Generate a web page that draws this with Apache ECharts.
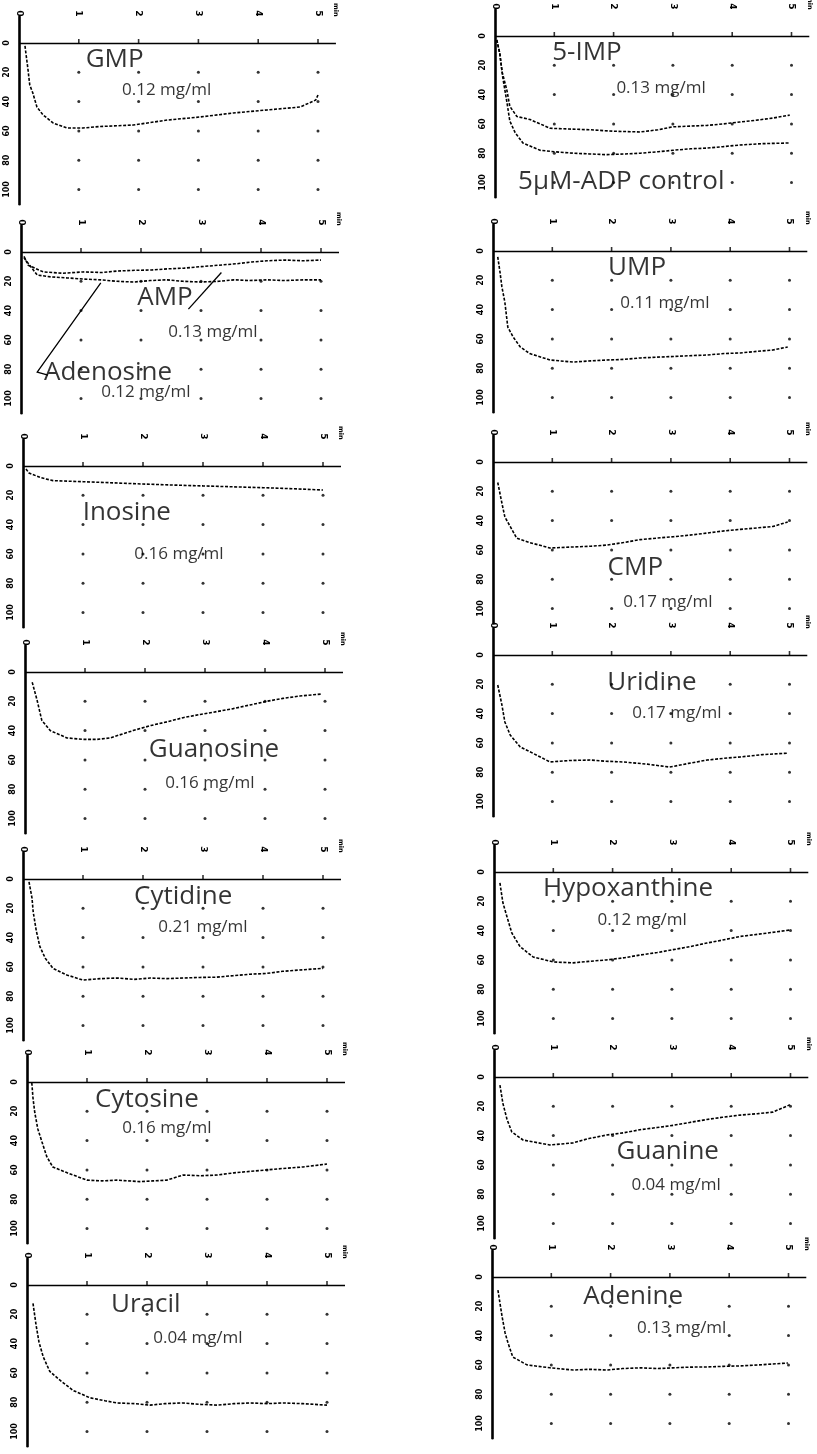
<!DOCTYPE html>
<html><head><meta charset="utf-8">
<script src="https://cdn.jsdelivr.net/npm/echarts@6/dist/echarts.min.js"></script>
<style>html,body{margin:0;padding:0;background:#fff}#c{width:817px;height:1454px}</style>
</head><body><div id="c"></div>
<script>
// ---- tick values / labels ----
const xTickValues = [0, 1, 2, 3, 4, 5];
const xTickLabels = ['0', '1', '2', '3', '4', '5'];
const xUnitLabel = 'min';
const yTickValues = [0, 20, 40, 60, 80, 100];
const yTickLabels = ['0', '20', '40', '60', '80', '100'];
const gridDotX = [1, 2, 3, 4, 5];
const gridDotY = [20, 40, 60, 80, 100];

// ---- curves: time (min) and aggregation (%) ----
const gmpT = [0.1,0.13,0.15,0.18,0.23,0.3,0.4,0.57,0.8,1.07,1.36,1.91,2.48,3.03,3.58,4.15,4.7,4.96,5.0];
const gmpV = [2,11.6,18,28.7,34,43.7,49,54.6,58,58,57,56,52.6,50.5,47.8,45.7,43.7,39,35.5];
const ampT = [0.05,0.12,0.37,0.7,1.04,1.35,1.6,1.9,2.17,2.45,2.72,3.0,3.3,3.6,3.85,4.1,4.4,4.7,5.0];
const ampV = [3,9,13.6,14.5,13.6,14,13,12.5,12.3,11.5,11,10,9,8,6.8,6,5.5,6,5.5];
const adenosineT = [0.05,0.27,0.5,0.77,1.05,1.33,1.6,1.88,2.15,2.43,2.7,3.0,3.3,3.55,3.8,4.1,4.4,4.7,5.0];
const adenosineV = [4,15.7,17,17.7,18.5,19,20,20.5,19.5,19,20,20.5,20,19,19.5,19,19.5,19,19];
const inosineT = [0.05,0.1,0.3,0.5,1,1.5,2,2.5,3,3.5,4,4.5,5];
const inosineV = [2,4.8,8,10,10.7,11.5,12.3,13,13.6,14.2,14.8,15.5,16.4];
const guanosineT = [0.12,0.2,0.28,0.42,0.7,0.97,1.2,1.42,1.8,2.1,2.37,2.65,2.92,3.2,3.47,3.75,4.03,4.3,4.58,4.95];
const guanosineV = [7,19,33,40,45,46,46,45,40,36.5,34,31,29,27,25,22.5,20,18,16.4,15];
const cytidineT = [0.1,0.15,0.17,0.22,0.28,0.37,0.5,0.73,1.0,1.3,1.57,1.85,2.12,2.4,2.67,2.95,3.23,3.5,3.78,4.05,4.33,4.65,5.0];
const cytidineV = [2,13,22.5,35,46,54,61,65.5,69,68,67.6,68.5,67.6,68,67.6,67.2,67,66,65,64.5,63,62,61];
const cytosineT = [0.08,0.1,0.13,0.18,0.25,0.33,0.43,0.67,1.0,1.25,1.5,1.88,2.1,2.33,2.6,2.9,3.17,3.45,3.72,4.0,4.27,4.6,5.0];
const cytosineV = [0.5,11,21,32,41,51,58,62,67,67.5,67,68,67.5,67,63.5,64,63.5,62,61,60,59,58,56];
const uracilT = [0.1,0.15,0.2,0.27,0.38,0.55,0.77,1.05,1.3,1.5,1.8,2.05,2.3,2.6,2.9,3.17,3.45,3.72,4.0,4.27,4.6,5.0];
const uracilV = [12.5,27,39,49,59,65,72,77,79,80.5,81,82,81,80.5,81.5,82,81,80.5,81,80.5,81,82];
const impT = [0.03,0.08,0.12,0.2,0.25,0.37,0.59,0.93,1.25,1.6,2.0,2.45,2.75,3.0,3.3,3.58,3.85,4.13,4.4,4.69,4.97];
const impV = [2.7,11.6,24.5,37,48,55,57,63,63.5,64,65,65.5,64,62,61.5,61,60,58.7,57.5,56,54];
const adpT = [0.03,0.08,0.13,0.2,0.25,0.34,0.47,0.76,1.0,1.32,1.6,1.89,2.2,2.45,2.75,3.0,3.3,3.58,3.85,4.13,4.5,4.97];
const adpV = [2.7,12,28,45,58,66,73,78,79,80,80.5,81,80.5,80,79,78,77,76.5,75.5,74.4,73.5,73];
const umpT = [0.08,0.12,0.15,0.2,0.25,0.34,0.46,0.62,0.96,1.35,1.65,1.92,2.2,2.48,2.75,3.04,3.3,3.61,3.9,4.17,4.45,4.72,4.97];
const umpV = [4,15,24.5,35,52,58.7,65.5,70,74.4,75.8,75,74.4,74,73,72.5,72,71.5,71,70,69.6,68.5,67.6,65.5];
const cmpT = [0.08,0.15,0.2,0.29,0.4,0.62,0.96,1.35,1.65,1.92,2.2,2.48,2.75,3.04,3.3,3.61,3.9,4.17,4.45,4.72,4.97];
const cmpV = [14,28,37.5,44,52,55,58.7,58,57.5,56.7,55,53,52,51,50,48.5,47,46,45,44,41];
const uridineT = [0.08,0.15,0.2,0.29,0.46,0.67,0.96,1.3,1.64,1.9,2.19,2.6,2.98,3.3,3.61,3.9,4.17,4.55,4.96];
const uridineV = [20.5,34,45.7,54.6,62.8,67,73,72,71.7,72.5,73,74.5,76.5,74,71.7,70.5,69.6,68,67];
const hypoT = [0.1,0.15,0.22,0.3,0.44,0.66,1.0,1.33,1.6,1.9,2.2,2.46,2.75,3.02,3.3,3.59,3.85,4.15,4.55,4.99];
const hypoV = [7.5,21,30.7,41.6,51,58,61.4,62,61,60,58.5,56.7,55,53,51,48.5,46.5,44,42,39.6];
const guanineT = [0.1,0.15,0.22,0.3,0.49,0.94,1.33,1.6,1.9,2.2,2.46,2.75,3.02,3.3,3.59,3.85,4.15,4.45,4.7,4.99];
const guanineV = [5.5,18,29,37.5,43,46.4,45,42,39.6,38,36,34.5,33,31,29,27.5,26,25,24,19];
const adenineT = [0.1,0.17,0.22,0.27,0.35,0.59,0.98,1.37,1.65,1.94,2.2,2.5,2.8,3.05,3.35,3.63,3.9,4.18,4.5,4.99];
const adenineV = [9,27,38,45,54.6,60,62,63.5,63,63.5,62.5,62,62.5,62,61.5,61.4,61,60.7,60,58.7];

// ---- panel content (texts anchored in data coords [min, %]) ----
const panels = [
  {curves: [[gmpT, gmpV]], texts: [['GMP', 1.6, 11, 'n'], ['0.12 mg/ml', 2.47, 32, 'c']]},
  {curves: [[ampT, ampV], [adenosineT, adenosineV]], texts: [['AMP', 2.4, 31, 'n'], ['0.13 mg/ml', 3.2, 55, 'c'], ['Adenosine', 1.45, 82, 'n'], ['0.12 mg/ml', 2.08, 95.5, 'c']],
   arrows: [[[2.79, 39], [3.34, 14]], [[0.45, 84], [0.27, 82], [1.33, 21]]]},
  {curves: [[inosineT, inosineV]], texts: [['Inosine', 1.73, 32, 'n'], ['0.16 mg/ml', 2.6, 60, 'c']]},
  {curves: [[guanosineT, guanosineV]], texts: [['Guanosine', 3.15, 53, 'n'], ['0.16 mg/ml', 3.08, 76, 'c']]},
  {curves: [[cytidineT, cytidineV]], texts: [['Cytidine', 2.67, 12, 'n'], ['0.21 mg/ml', 3.0, 33, 'c']]},
  {curves: [[cytosineT, cytosineV]], texts: [['Cytosine', 2.0, 12, 'n'], ['0.16 mg/ml', 2.33, 31.5, 'c']]},
  {curves: [[uracilT, uracilV]], texts: [['Uracil', 1.98, 13.6, 'n'], ['0.04 mg/ml', 2.85, 36, 'c']]},
  {curves: [[impT, impV], [adpT, adpV]], texts: [['5-IMP', 1.55, 11, 'n'], ['0.13 mg/ml', 2.8, 35.7, 'c'], ['5μM-ADP control', 2.13, 99.5, 'n']]},
  {curves: [[umpT, umpV]], texts: [['UMP', 2.43, 11, 'n'], ['0.11 mg/ml', 2.9, 35.8, 'c']]},
  {curves: [[cmpT, cmpV]], texts: [['CMP', 2.4, 72, 'n'], ['0.17 mg/ml', 2.95, 95.5, 'c']]},
  {curves: [[uridineT, uridineV]], texts: [['Uridine', 2.68, 19, 'n'], ['0.17 mg/ml', 3.1, 40, 'c']]},
  {curves: [[hypoT, hypoV]], texts: [['Hypoxanthine', 2.26, 11, 'n'], ['0.12 mg/ml', 2.5, 33, 'c']]},
  {curves: [[guanineT, guanineV]], texts: [['Guanine', 2.93, 51, 'n'], ['0.04 mg/ml', 3.07, 74, 'c']]},
  {curves: [[adenineT, adenineV]], texts: [['Adenine', 2.38, 13.6, 'n'], ['0.13 mg/ml', 3.2, 35, 'c']]}
];

// ---- layout (pixels) ----
const panelX0 = [19, 21, 23, 25, 23, 27, 27, 495, 493, 493, 493, 494, 494, 492];
const panelBase = [43, 252, 466, 672, 879, 1082, 1285, 36, 251, 462, 655, 872, 1077, 1277];
const panelStep = [59.8, 60, 60, 60, 60, 60, 60, 59.3, 59.3, 59.3, 59.3, 59.3, 59.3, 59.3];
const kY = 1.465, yMin = -18, yMax = 110, xMax = 5.3;
const ink = '#000';
const fontFam = "'Open Sans', 'Liberation Sans', sans-serif";

const xLabelPos = xTickValues.concat([xMax]);
const xLabelTxt = xTickLabels.concat([xUnitLabel]);
function labelFor(pos, txt, v) {
  for (let i = 0; i < pos.length; i++) if (Math.abs(pos[i] - v) < 1e-6) return txt[i];
  return '';
}
function xLabelFmt(v) {
  const s = labelFor(xLabelPos, xLabelTxt, v);
  return s === xUnitLabel ? '{u|' + s + '}' : s;
}
const dots = [];
gridDotX.forEach(x => gridDotY.forEach(y => dots.push([x, y])));
const baseTicks = gridDotX.map(x => [x, 0]);

const grids = [], xAxes = [], yAxes = [], series = [];
panels.forEach((p, i) => {
  grids.push({left: panelX0[i], top: panelBase[i] + yMin * kY, width: xMax * panelStep[i], height: (yMax - yMin) * kY,
    containLabel: false, outerBoundsMode: 'none'});
  xAxes.push({
    gridIndex: i, type: 'value', position: 'top', min: 0, max: xMax,
    axisLine: {show: false, onZero: false},
    axisTick: {show: false},
    axisLabel: {show: true, customValues: xLabelPos, formatter: xLabelFmt,
      rotate: 90, margin: 0, fontSize: 9, fontWeight: 'bold', color: ink, fontFamily: 'DejaVu Sans',
      showMinLabel: true, showMaxLabel: true,
      rich: {u: {fontSize: 6.5, fontWeight: 'bold', color: ink, fontFamily: 'DejaVu Sans'}}},
    splitLine: {show: false}
  });
  yAxes.push({
    gridIndex: i, type: 'value', inverse: true, min: yMin, max: yMax,
    axisLine: {show: true, onZero: false, lineStyle: {color: ink, width: 2.6}},
    axisTick: {show: false},
    axisLabel: {show: true, customValues: yTickValues, formatter: v => labelFor(yTickValues, yTickLabels, v),
      rotate: 90, margin: 8, fontSize: 8, fontWeight: 'bold', color: ink, fontFamily: 'DejaVu Sans'},
    splitLine: {show: false}
  });
  // grid dots + 0 % baseline
  series.push({type: 'scatter', xAxisIndex: i, yAxisIndex: i, data: dots, symbolSize: 3,
    itemStyle: {color: ink}, silent: true,
    markLine: {silent: true, symbol: ['none', 'none'], label: {show: false},
      lineStyle: {color: ink, width: 1.3, type: 'solid'}, data: [{yAxis: 0}]}});
  // minute marks on the baseline
  series.push({type: 'scatter', xAxisIndex: i, yAxisIndex: i, data: baseTicks, symbol: 'rect',
    symbolSize: [1.6, 4], symbolOffset: [0, -2], itemStyle: {color: ink}, silent: true});
  p.curves.forEach(c => {
    series.push({type: 'line', xAxisIndex: i, yAxisIndex: i, showSymbol: false, silent: true,
      data: c[0].map((t, k) => [t, c[1][k]]),
      lineStyle: {color: ink, width: 1.6, type: [3, 1.6]}});
  });
  if (p.arrows) {
    series.push({type: 'lines', coordinateSystem: 'cartesian2d', xAxisIndex: i, yAxisIndex: i, polyline: true,
      silent: true, data: p.arrows.map(a => ({coords: a})),
      lineStyle: {color: ink, width: 1.3, opacity: 1}});
  }
  series.push({type: 'scatter', xAxisIndex: i, yAxisIndex: i, silent: true, symbolSize: 1,
    itemStyle: {color: 'rgba(0,0,0,0)'},
    data: p.texts.map(t => ({value: [t[1], t[2]], name: t[0],
      label: {fontSize: t[3] === 'n' ? 26 : 17}})),
    label: {show: true, position: 'inside', formatter: d => d.name, color: ink, fontFamily: fontFam}});
});

const chart = echarts.init(document.getElementById('c'), null, {renderer: 'canvas'});
chart.setOption({backgroundColor: '#fff', animation: false, grid: grids, xAxis: xAxes, yAxis: yAxes, series: series});
</script></body></html>
